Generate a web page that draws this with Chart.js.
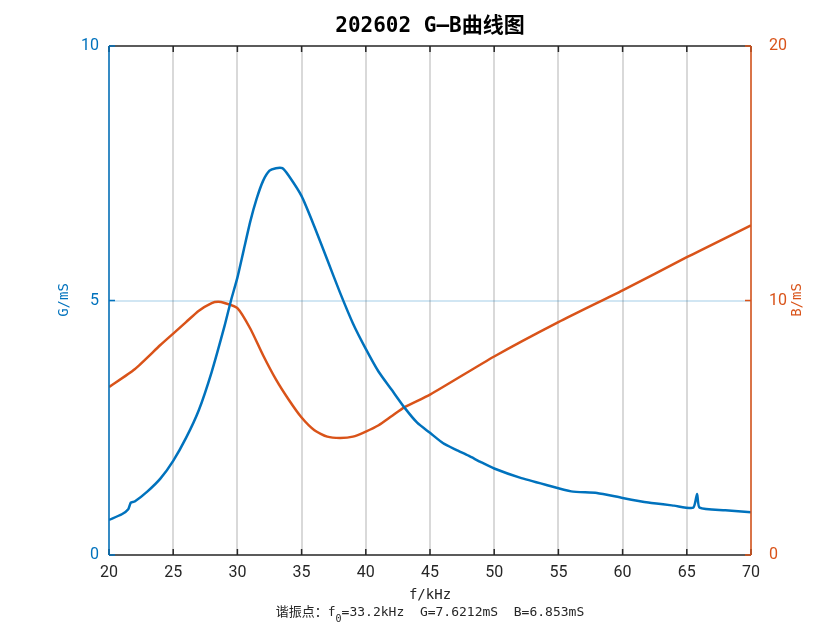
<!DOCTYPE html><html><head><meta charset="utf-8">
<script src="https://cdn.jsdelivr.net/npm/chart.js@4"></script>
<style>html,body{margin:0;background:#fff}#w{width:832px;height:624px}</style></head><body><div id="w"><canvas id="c"></canvas></div>
<script>
const freqG=[20,21,21.5,21.7,22,23,24,25,26,27,28,29,29.5,30,30.5,31,31.5,32,32.5,33,33.5,34,35,36,37,38,39,40,41,42,43,44,45,46,47,48,49,50,52,54,56,58,60,62,64,65.5,65.8,66,68,70];
const gValues=[0.69,0.8,0.9,1.03,1.05,1.25,1.5,1.85,2.3,2.85,3.6,4.5,5.0,5.45,6.0,6.55,7.0,7.35,7.55,7.6,7.6,7.45,7.05,6.45,5.8,5.15,4.55,4.05,3.6,3.25,2.9,2.6,2.4,2.2,2.07,1.95,1.82,1.7,1.52,1.38,1.25,1.22,1.12,1.03,0.97,0.93,1.2,0.93,0.88,0.84];
const freqB=[20,22,24,25,26,27,28,28.5,29,30,31,32,33,34,35,36,37,38,39,40,41,42,43,45,50,55,60,65,66,70];
const bValues=[6.6,7.3,8.25,8.7,9.15,9.6,9.9,9.95,9.9,9.7,8.9,7.85,6.9,6.1,5.4,4.9,4.65,4.6,4.65,4.85,5.1,5.45,5.8,6.3,7.8,9.15,10.4,11.7,11.95,12.95];
const xTicks=[20,25,30,35,40,45,50,55,60,65,70];
const BLUE='#0072BD',ORANGE='#D95319';
const deco={id:'deco',afterDraw(ch){const c=ch.ctx,a=ch.chartArea;c.save();
c.lineWidth=1.5;
c.strokeStyle='#262626';c.beginPath();c.moveTo(a.left,a.top);c.lineTo(a.right,a.top);c.moveTo(a.left,a.bottom);c.lineTo(a.right,a.bottom);c.stroke();
const xs=ch.scales.x,yl=ch.scales.y,yr=ch.scales.y2;
c.beginPath();for(const t of xTicks){const p=xs.getPixelForValue(t);c.moveTo(p,a.bottom);c.lineTo(p,a.bottom-6);c.moveTo(p,a.top);c.lineTo(p,a.top+6);}c.stroke();
c.strokeStyle=BLUE;c.beginPath();c.moveTo(a.left,a.top);c.lineTo(a.left,a.bottom);for(const t of [0,5,10]){const p=yl.getPixelForValue(t);c.moveTo(a.left,p);c.lineTo(a.left+6,p);}c.stroke();
c.strokeStyle=ORANGE;c.beginPath();c.moveTo(a.right,a.top);c.lineTo(a.right,a.bottom);for(const t of [0,10,20]){const p=yr.getPixelForValue(t);c.moveTo(a.right,p);c.lineTo(a.right-6,p);}c.stroke();
c.textAlign='center';c.textBaseline='middle';
c.fillStyle='#000';c.font='bold 21px "DejaVu Sans Mono","Noto Sans CJK SC"';c.fillText('202602 G—B曲线图',(a.left+a.right)/2,27);
c.fillStyle='#262626';c.font='14px "DejaVu Sans Mono","Noto Sans CJK SC"';c.fillText('f/kHz',(a.left+a.right)/2,595);
c.font='13px "DejaVu Sans Mono","Noto Sans CJK SC"';
const s1='谐振点：f',s2='=33.2kHz  G=7.6212mS  B=6.853mS';const w1=c.measureText(s1).width,w2=c.measureText(s2).width;c.font='10px "DejaVu Sans Mono"';const w0=c.measureText('0').width;
let x0=(a.left+a.right)/2-(w1+w2+w0)/2;c.textAlign='left';c.font='13px "DejaVu Sans Mono","Noto Sans CJK SC"';c.fillText(s1,x0,613);c.font='10px "DejaVu Sans Mono"';c.fillText('0',x0+w1,619);c.font='13px "DejaVu Sans Mono","Noto Sans CJK SC"';c.fillText(s2,x0+w1+w0,613);
c.textAlign='center';c.font='14px "DejaVu Sans Mono"';
c.save();c.translate(64,300);c.rotate(-Math.PI/2);c.fillStyle=BLUE;c.fillText('G/mS',0,0);c.restore();
c.save();c.translate(797,300);c.rotate(-Math.PI/2);c.fillStyle=ORANGE;c.fillText('B/mS',0,0);c.restore();
c.restore();}};
new Chart(document.getElementById('c'),{type:'line',
data:{datasets:[
{data:freqG.map((f,i)=>({x:f,y:gValues[i]})),borderColor:BLUE,borderWidth:2.5,pointRadius:0,yAxisID:'y',tension:0.2},
{data:freqB.map((f,i)=>({x:f,y:bValues[i]})),borderColor:ORANGE,borderWidth:2.5,pointRadius:0,yAxisID:'y2',tension:0.2}]},
options:{responsive:true,maintainAspectRatio:false,animation:false,layout:{padding:{top:46}},
plugins:{legend:{display:false},tooltip:{enabled:false}},
scales:{
x:{type:'linear',min:20,max:70,afterBuildTicks:s=>{s.ticks=xTicks.map(v=>({value:v}))},afterFit:s=>{s.height=69},
grid:{color:'rgba(0,0,0,0.15)',lineWidth:2,drawTicks:false},border:{display:false},ticks:{color:'#262626',font:{size:16,family:'Roboto'},padding:8,maxRotation:0}},
y:{position:'left',min:0,max:10,afterBuildTicks:s=>{s.ticks=[0,5,10].map(v=>({value:v}))},afterFit:s=>{s.width=109},
grid:{color:c=>c.tick&&c.tick.value===5?'rgba(0,114,189,0.18)':'rgba(0,0,0,0)',lineWidth:2,drawTicks:false},border:{display:false},ticks:{color:BLUE,font:{size:16,family:'Roboto'},padding:10}},
y2:{position:'right',min:0,max:20,afterBuildTicks:s=>{s.ticks=[0,10,20].map(v=>({value:v}))},afterFit:s=>{s.width=81},
grid:{display:false},border:{display:false},ticks:{color:ORANGE,font:{size:16,family:'Roboto'},padding:10}}}},
plugins:[deco]});
</script></body></html>
